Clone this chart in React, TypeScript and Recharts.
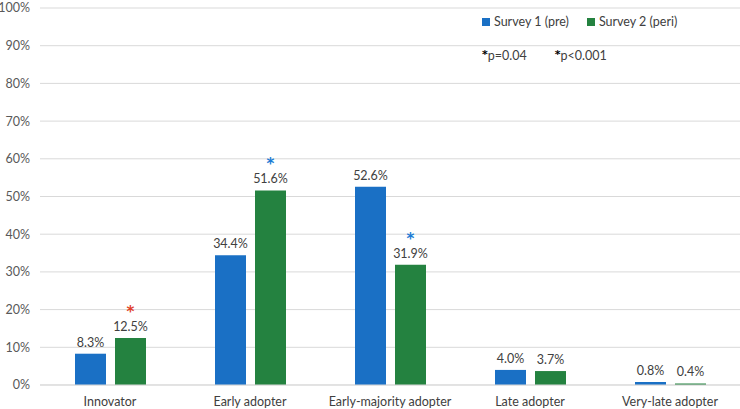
import React from "react";
import {
  BarChart,
  Bar,
  XAxis,
  YAxis,
  CartesianGrid,
  LabelList,
} from "recharts";

const categories = [
  "Innovator",
  "Early adopter",
  "Early-majority adopter",
  "Late adopter",
  "Very-late adopter",
];
const survey1 = [8.3, 34.4, 52.6, 4.0, 0.8];
const survey2 = [12.5, 51.6, 31.9, 3.7, 0.4];
// significance marker above survey 2 bars: "a" = p=0.04, "b" = p<0.001
const survey2Sig = ["a", "b", "b", "", ""];
const yTicks = [0, 10, 20, 30, 40, 50, 60, 70, 80, 90, 100];

const BLUE = "#1A70C5";
const GREEN = "#248240";
const SIG_COLORS: Record<string, string> = { a: "#E0402A", b: "#1C7CD5" };
const FONT = "Lato, 'Open Sans', sans-serif";

const data = categories.map((name, i) => ({
  name,
  s1: survey1[i],
  s2: survey2[i],
  sig: survey2Sig[i],
}));

const ValueLabel = (props: any) => {
  const { x, y, width, value } = props;
  return (
    <text
      x={x + width / 2}
      y={y - 7}
      textAnchor="middle"
      fontSize={12.5}
      fill="#404040"
      fontFamily={FONT}
    >
      {Number(value).toFixed(1)}%
    </text>
  );
};

const SigLabel = (props: any) => {
  const { x, y, width, index } = props;
  const sig = survey2Sig[index];
  if (!sig) return null;
  return (
    <text
      x={x + width / 2}
      y={y - 21}
      textAnchor="middle"
      fontSize={15}
      fontWeight="bold"
      fill={SIG_COLORS[sig]}
      fontFamily="'DejaVu Sans', sans-serif"
    >
      *
    </text>
  );
};

const LegendBox = () => (
  <div
    style={{
      position: "absolute",
      left: 482,
      top: 14,
      fontFamily: FONT,
      fontSize: 12.5,
      color: "#404040",
    }}
  >
    <div style={{ display: "flex", alignItems: "center" }}>
      <span style={{ width: 8, height: 8, background: BLUE, marginRight: 4 }} />
      <span style={{ marginRight: 18 }}>Survey 1 (pre)</span>
      <span style={{ width: 8, height: 8, background: GREEN, marginRight: 4 }} />
      <span>Survey 2 (peri)</span>
    </div>
    <div style={{ display: "flex", marginTop: 19 }}>
      <span style={{ marginRight: 28 }}>
        <b style={{ color: "#000", fontFamily: "'DejaVu Sans', sans-serif", fontSize: 11, verticalAlign: 2 }}>*</b>p=0.04
      </span>
      <span>
        <b style={{ color: "#000", fontFamily: "'DejaVu Sans', sans-serif", fontSize: 11, verticalAlign: 2 }}>*</b>p&lt;0.001
      </span>
    </div>
  </div>
);

export default function App() {
  return (
    <div style={{ position: "absolute", left: 0, top: 0, width: 740, height: 409, background: "#fff" }}>
      <BarChart
        width={740}
        height={409}
        data={data}
        margin={{ top: 8, right: 0, left: 0, bottom: 0 }}
        barSize={31}
        barGap={9}
      >
        <CartesianGrid vertical={false} stroke="#d9d9d9" />
        <XAxis
          dataKey="name"
          height={24}
          tickLine={false}
          axisLine={{ stroke: "#d9d9d9" }}
          tick={{ fontSize: 12.5, fill: "#404040", fontFamily: FONT }}
          tickMargin={6}
          interval={0}
        />
        <YAxis
          width={40}
          domain={[0, 100]}
          ticks={yTicks}
          tickFormatter={(v) => `${v}%`}
          axisLine={false}
          tickLine={false}
          tickSize={0}
          tickMargin={10}
          tick={{ fontSize: 12.5, fill: "#595959", fontFamily: FONT }}
        />
        <Bar dataKey="s1" fill={BLUE} isAnimationActive={false}>
          <LabelList dataKey="s1" content={<ValueLabel />} />
        </Bar>
        <Bar dataKey="s2" fill={GREEN} isAnimationActive={false}>
          <LabelList dataKey="s2" content={<ValueLabel />} />
          <LabelList dataKey="sig" content={<SigLabel />} />
        </Bar>
      </BarChart>
      <LegendBox />
    </div>
  );
}
